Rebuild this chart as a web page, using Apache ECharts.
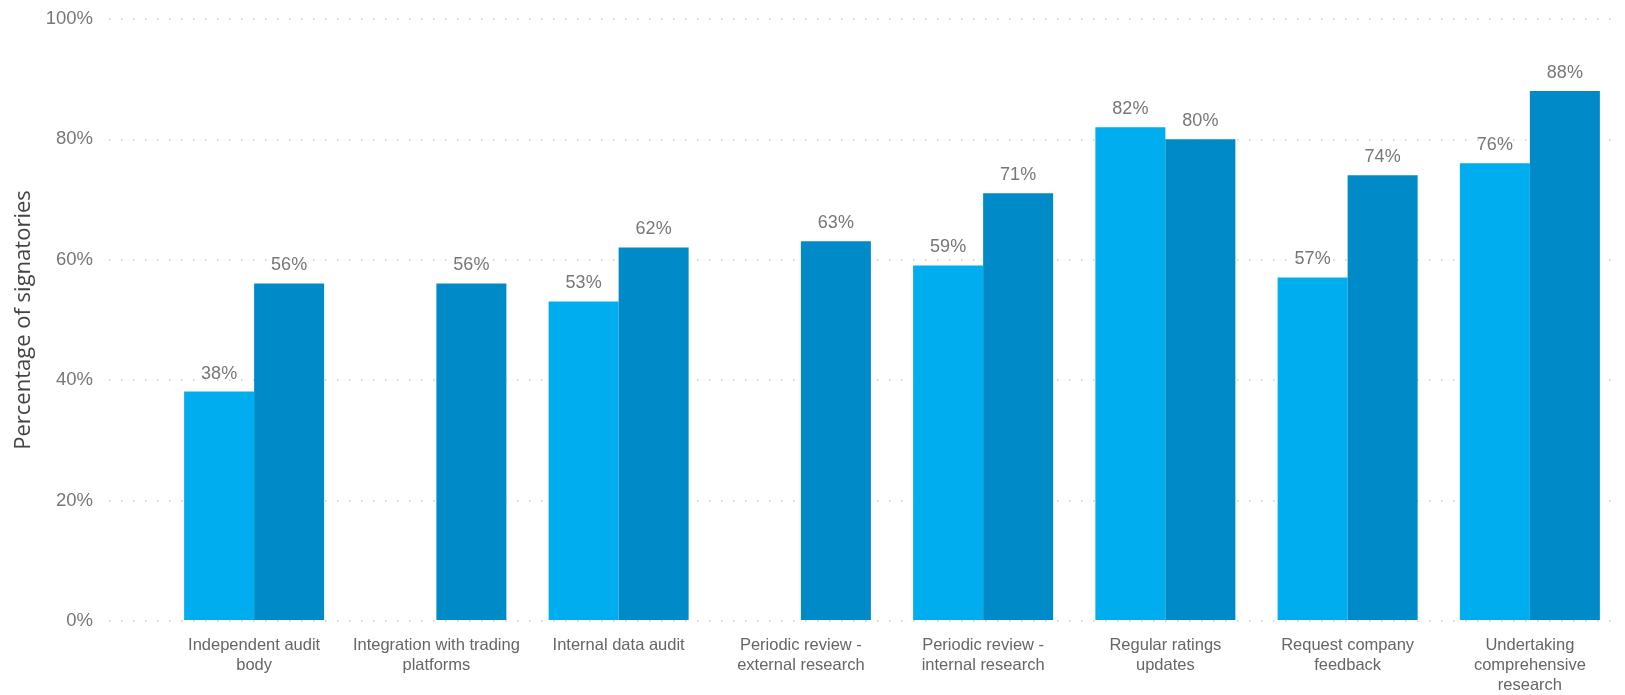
<!DOCTYPE html>
<html>
<head>
<meta charset="utf-8">
<script src="https://cdn.jsdelivr.net/npm/echarts@6/dist/echarts.min.js"></script>
<style>
  html, body { margin: 0; padding: 0; background: #ffffff; }
  #chart { width: 1625px; height: 695px; }
</style>
</head>
<body>
<div id="chart"></div>
<script>
// Verification practices, share of signatories (%)
const categories = [
  'Independent audit\nbody',
  'Integration with trading\nplatforms',
  'Internal data audit',
  'Periodic review -\nexternal research',
  'Periodic review -\ninternal research',
  'Regular ratings\nupdates',
  'Request company\nfeedback',
  'Undertaking\ncomprehensive\nresearch'
];
const seriesA = [38, null, 53, null, 59, 82, 57, 76];
const seriesB = [56, 56, 62, 63, 71, 80, 74, 88];
const yTicks = { min: 0, max: 100, interval: 20 };

const FONT = '"Liberation Sans", Arial, sans-serif';
const chart = echarts.init(document.getElementById('chart'), null, { renderer: 'canvas' });

const labelStyle = {
  show: true,
  position: 'top',
  distance: 9,
  color: '#777777',
  fontSize: 18,
  fontFamily: FONT,
  formatter: p => p.value + '%'
};

chart.setOption({
  animation: false,
  backgroundColor: '#ffffff',
  grid: [
    { left: 109, right: 4, top: 19, bottom: 74 },
    { left: 163, right: 4, top: 19, bottom: 74 }
  ],
  xAxis: [
    { type: 'value', gridIndex: 0, min: 0, max: 1, show: false },
    {
      type: 'category', gridIndex: 1, data: categories,
      axisLine: { show: false }, axisTick: { show: false },
      axisLabel: {
        color: '#666666', fontSize: 16.5, fontFamily: FONT,
        lineHeight: 20, margin: 15, interval: 0
      }
    }
  ],
  yAxis: [
    {
      type: 'value', gridIndex: 0,
      min: yTicks.min, max: yTicks.max, interval: yTicks.interval,
      name: 'Percentage of signatories',
      nameLocation: 'middle', nameGap: 73,
      nameTextStyle: { color: '#444444', fontSize: 22, fontFamily: '"Open Sans", "Noto Sans", sans-serif' },
      axisLine: { show: false }, axisTick: { show: false },
      axisLabel: { color: '#777777', fontSize: 18.5, fontFamily: FONT, margin: 16, formatter: '{value}%' },
      splitLine: { show: true, lineStyle: { color: '#cccccc', width: 1.5, type: [1.5, 10.5] } }
    },
    {
      type: 'value', gridIndex: 1,
      min: yTicks.min, max: yTicks.max, interval: yTicks.interval,
      show: false, splitLine: { show: false }
    }
  ],
  series: [
    {
      type: 'bar', xAxisIndex: 1, yAxisIndex: 1,
      data: seriesA, barWidth: 70, barGap: '0%',
      itemStyle: { color: '#00adef' },
      label: labelStyle
    },
    {
      type: 'bar', xAxisIndex: 1, yAxisIndex: 1,
      data: seriesB, barWidth: 70, barGap: '0%',
      itemStyle: { color: '#008bc8' },
      label: labelStyle
    }
  ]
});
</script>
</body>
</html>
